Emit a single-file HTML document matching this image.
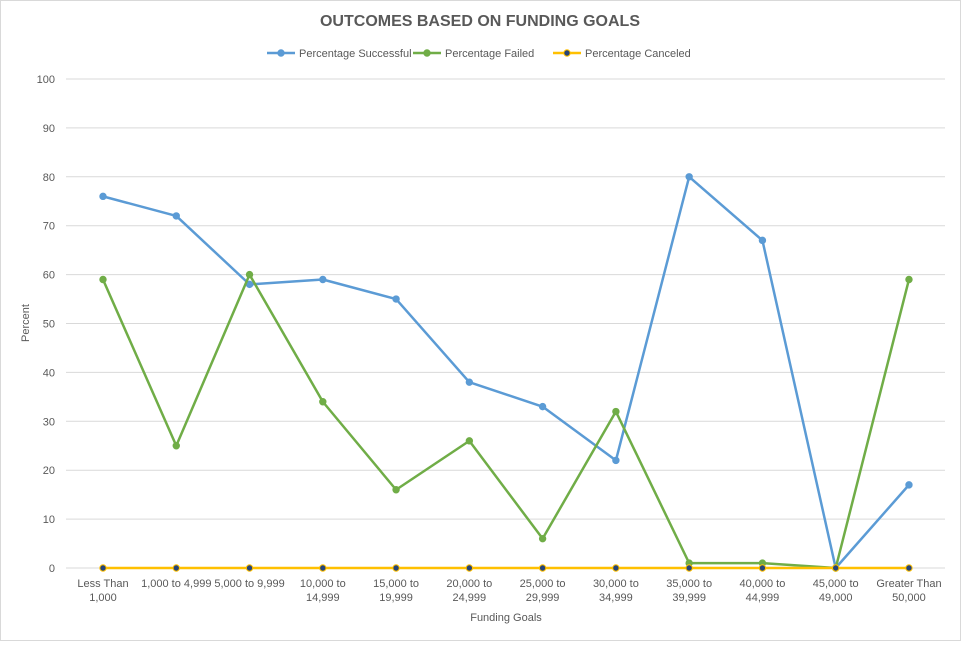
<!DOCTYPE html>
<html><head><meta charset="utf-8"><style>
html,body{margin:0;padding:0;background:#fff}
svg{display:block;font-family:"Liberation Sans",sans-serif}
</style></head><body>
<svg id="chart" width="969" height="649" viewBox="0 0 969 649">
<rect x="0.5" y="0.5" width="960" height="640" fill="#fff" stroke="#d9d9d9"/>
<text x="480" y="26" text-anchor="middle" font-size="16" font-weight="bold" fill="#595959">OUTCOMES BASED ON FUNDING GOALS</text>
<g id="legend"></g>
<g id="grid"></g><g id="series"></g>
<text x="29" y="323" transform="rotate(-90 29 323)" text-anchor="middle" font-size="11" fill="#595959">Percent</text>
<text x="506" y="621" text-anchor="middle" font-size="11" fill="#595959">Funding Goals</text>
</svg>
<script>
const categories=[["Less Than","1,000"],["1,000 to 4,999"],["5,000 to 9,999"],["10,000 to","14,999"],["15,000 to","19,999"],["20,000 to","24,999"],["25,000 to","29,999"],["30,000 to","34,999"],["35,000 to","39,999"],["40,000 to","44,999"],["45,000 to","49,000"],["Greater Than","50,000"]];
const successful=[76,72,58,59,55,38,33,22,80,67,0,17];
const failed=[59,25,60,34,16,26,6,32,1,1,0,59];
const canceled=[0,0,0,0,0,0,0,0,0,0,0,0];
const yTicks=[0,10,20,30,40,50,60,70,80,90,100];
const NS="http://www.w3.org/2000/svg";
const x0=103,step=73.27,yBase=568,yTop=79;
const xS=i=>x0+i*step;
const yS=v=>yBase-(v/100)*(yBase-yTop);
function mk(t,a,p){const e=document.createElementNS(NS,t);for(const k in a)e.setAttribute(k,a[k]);p.appendChild(e);return e;}
const grid=document.getElementById('grid');
yTicks.forEach(v=>{
 const l=mk('line',{x1:66,x2:945,y1:yS(v),y2:yS(v),stroke:'#d9d9d9','stroke-width':1},grid);
 
 
 const t=mk('text',{x:55,y:yS(v)+4,'text-anchor':'end','font-size':11,fill:'#595959'},grid);
 t.textContent=v;
 
 
});
categories.forEach((c,i)=>{
 const t=mk('text',{x:xS(i),y:587,'text-anchor':'middle','font-size':11,fill:'#595959'},grid);
 
 
 c.forEach((s,j)=>{const ts=mk('tspan',{x:xS(i),dy:j?14:0},t);ts.textContent=s;});
});
const ser=document.getElementById('series');
function draw(vals,col,mfill,name){
 const g=mk('g',{},ser);
 
 
 const p=mk('polyline',{points:vals.map((v,i)=>xS(i)+','+yS(v)).join(' '),fill:'none',stroke:col,'stroke-width':2.5,'stroke-linejoin':'round'},g);
 
 
 vals.forEach((v,i)=>{
  const c=mk('circle',{cx:xS(i),cy:yS(v),r:3.2,fill:mfill,stroke:col,'stroke-width':1},g);
  
  
 });
}
draw(successful,'#5b9bd5','#5b9bd5','successful');
draw(failed,'#70ad47','#70ad47','failed');
draw(canceled,'#ffc000','#264478','canceled');
const leg=document.getElementById('legend');
[['Percentage Successful','#5b9bd5','#5b9bd5',267],['Percentage Failed','#70ad47','#70ad47',413],['Percentage Canceled','#ffc000','#264478',553]].forEach(d=>{
 const g=mk('g',{},leg);
 
 
 mk('line',{x1:d[3],x2:d[3]+28,y1:53,y2:53,stroke:d[1],'stroke-width':2.5},g);
 mk('circle',{cx:d[3]+14,cy:53,r:3.2,fill:d[2],stroke:d[1]},g);
 const t=mk('text',{x:d[3]+32,y:57,'font-size':11,fill:'#595959'},g);
 t.textContent=d[0];
});
</script>
</body></html>
